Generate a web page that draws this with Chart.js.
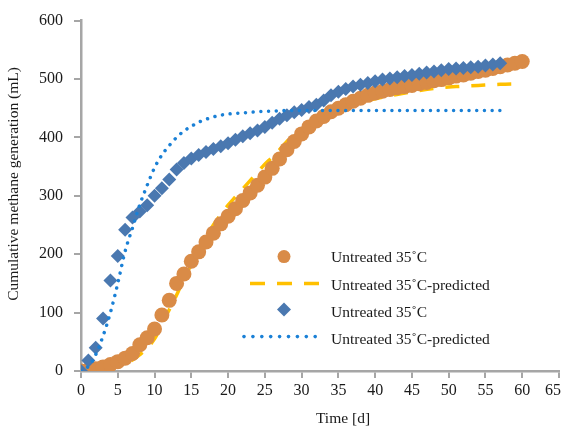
<!DOCTYPE html>
<html>
<head>
<meta charset="utf-8">
<script src="https://cdn.jsdelivr.net/npm/chart.js@4/dist/chart.umd.min.js"></script>
<style>
  html, body { margin: 0; padding: 0; background: #fff; }
  #wrap { width: 562px; height: 426px; }
</style>
</head>
<body>
<div id="wrap"><canvas id="chart" width="562" height="426"></canvas></div>
<script>
// measured series (days / mL)
const orangeDays = [0,1,2,3,4,5,6,7,8,9,10,11,12,13,14,15,16,17,18,19,20,21,22,23,24,25,26,27,28,29,30,31,32,33,34,35,36,37,38,39,40,41,42,43,44,45,46,47,48,49,50,51,52,53,54,55,56,57,58,59,60];
const orangeObs = [0,2,4,7,11,16,22,30,45,57,72,96,121,150,166,188,204,221,236,252,265,278,292,305,318,332,347,363,379,393,406,418,428,436,444,450,456,462,467,472,476,479,482,485,487,489,492,494,497,499,502,505,507,510,513,515,518,521,524,527,530];

const orangePredDays = [0,2,4,6,8,10,11,12,13,14,15,16,17,18,19,20,21,22,23,24,25,26,27,28,29,30,32,34,36,38,40,42,45,48,51,54,57,60];
const orangePred = [0,1,4,12,28,55,80,105,130,158,182,205,228,250,268,284,298,312,326,340,354,366,379,393,404,414,428,441,451,459,466,471,478,484,487,489,491,492];

const blueDays = [0,1,2,3,4,5,6,7,8,9,10,11,12,13,14,15,16,17,18,19,20,21,22,23,24,25,26,27,28,29,30,31,32,33,34,35,36,37,38,39,40,41,42,43,44,45,46,47,48,49,50,51,52,53,54,55,56,57];
const blueObs = [0,18,40,90,155,197,242,263,273,284,300,313,328,345,356,364,370,375,380,385,390,396,402,407,412,418,425,432,438,443,447,452,456,463,472,478,483,487,490,493,496,499,501,503,505,507,509,511,513,515,517,518,519,520,521,523,525,527];

const bluePredDays = [0,1,2,3,4,5,6,7,8,9,10,11,12,13,14,15,16,17,18,19,20,22,24,26,28,30,35,40,45,50,57];
const bluePred = [0,8,28,60,100,150,205,245,285,318,348,370,386,400,411,419,426,431,435,438,440,442,444,445,446,446,446,446,446,446,446];

const seriesLabels = ['Untreated 35˚C', 'Untreated 35˚C-predicted', 'Untreated 35˚C', 'Untreated 35˚C-predicted'];
const xTitle = 'Time [d]';
const yTitle = 'Cumulative methane generation (mL)';

const pts = (xs, ys) => xs.map((x, i) => ({ x: x, y: ys[i] }));

const ORANGE = '#d98b47';
const YELLOW = '#ffc000';
const STEEL = '#4a78b0';
const DOTBLUE = '#1a80d6';
const AXIS = '#a6a6a6';
const TEXT = '#1a1a1a';
const SERIF = '"Liberation Serif", "Times New Roman", serif';

Chart.defaults.font.family = SERIF;
Chart.defaults.font.size = 16;
Chart.defaults.color = TEXT;

// pin the plot box to the reference frame
const frame = {
    id: 'frame',
    afterLayout(chart) {
        const xs = chart.scales.x;
        xs.right = 559;
        xs.width = xs.right - xs.left;
        xs.configure();
        chart.chartArea.right = 559;
        chart.chartArea.width = 559 - chart.chartArea.left;
    }
};

// axis titles and legend drawn inside the plot
const insideLegend = {
    id: 'insideLegend',
    afterDraw(chart) {
        const ctx = chart.ctx;
        const a = chart.chartArea;
        const sx = a.left + 203;
        const tx = a.left + 250;
        const rows = [237, 265, 292, 319];
        ctx.save();

        ctx.fillStyle = TEXT;
        ctx.font = '15.5px ' + SERIF;
        ctx.textAlign = 'center';
        ctx.textBaseline = 'middle';
        ctx.fillText(xTitle, 343, 419);
        ctx.save();
        ctx.translate(14, 184);
        ctx.rotate(-Math.PI / 2);
        ctx.fillText(yTitle, 0, 0);
        ctx.restore();

        // circle
        ctx.fillStyle = ORANGE;
        ctx.beginPath();
        ctx.arc(sx, a.top + 236, 6.5, 0, Math.PI * 2);
        ctx.fill();

        // dashed
        ctx.strokeStyle = YELLOW;
        ctx.lineWidth = 3.5;
        ctx.setLineDash([15, 12]);
        ctx.beginPath();
        ctx.moveTo(sx - 34, a.top + 263);
        ctx.lineTo(sx + 36, a.top + 263);
        ctx.stroke();

        // diamond
        ctx.setLineDash([]);
        ctx.fillStyle = STEEL;
        ctx.beginPath();
        ctx.moveTo(sx, a.top + 289 - 7);
        ctx.lineTo(sx + 7, a.top + 289);
        ctx.lineTo(sx, a.top + 289 + 7);
        ctx.lineTo(sx - 7, a.top + 289);
        ctx.closePath();
        ctx.fill();

        // dotted
        ctx.fillStyle = DOTBLUE;
        for (let i = 0; i < 9; i++) {
            ctx.beginPath();
            ctx.arc(sx - 40 + i * 8.9, a.top + 316, 1.8, 0, Math.PI * 2);
            ctx.fill();
        }

        ctx.fillStyle = TEXT;
        ctx.textAlign = 'left';
        seriesLabels.forEach((t, i) => ctx.fillText(t, tx, a.top + rows[i]));
        ctx.restore();
    }
};

const ctx = document.getElementById('chart').getContext('2d');
new Chart(ctx, {
    type: 'scatter',
    data: {
        datasets: [
            {
                label: seriesLabels[0],
                data: pts(orangeDays, orangeObs),
                pointStyle: 'circle',
                pointRadius: 7.5,
                backgroundColor: ORANGE,
                borderWidth: 0,
                showLine: false,
                order: 3
            },
            {
                label: seriesLabels[1],
                data: pts(orangePredDays, orangePred),
                showLine: true,
                borderColor: YELLOW,
                borderWidth: 3.5,
                borderDash: [14, 12],
                cubicInterpolationMode: 'monotone',
                pointRadius: 0,
                order: 4
            },
            {
                label: seriesLabels[2],
                data: pts(blueDays, blueObs),
                pointStyle: 'rectRot',
                pointRadius: 7,
                backgroundColor: STEEL,
                borderWidth: 0,
                showLine: false,
                order: 2
            },
            {
                label: seriesLabels[3],
                data: pts(bluePredDays, bluePred),
                showLine: true,
                borderColor: DOTBLUE,
                borderWidth: 3.5,
                borderDash: [0.01, 7.7],
                borderCapStyle: 'round',
                cubicInterpolationMode: 'monotone',
                pointRadius: 0,
                order: 1
            }
        ]
    },
    options: {
        responsive: false,
        animation: false,
        layout: { padding: { top: 20, right: 3, left: 0, bottom: 0 } },
        plugins: {
            legend: { display: false },
            tooltip: { enabled: false }
        },
        scales: {
            x: {
                type: 'linear',
                min: 0,
                max: 65,
                ticks: {
                    stepSize: 5,
                    padding: 3,
                    color: TEXT,
                    // last label sits left of its tick so it stays on the canvas
                    callback: v => v === 65 ? v + '   ' : String(v)
                },
                grid: { drawOnChartArea: false, drawTicks: true, tickLength: 7, color: AXIS, lineWidth: 2 },
                border: { color: AXIS, width: 2.5 },
                afterFit(scale) {
                    scale.height = 55;
                }
            },
            y: {
                min: 0,
                max: 600,
                ticks: { stepSize: 100, padding: 11, color: TEXT },
                grid: { drawOnChartArea: false, drawTicks: true, tickLength: 7, color: AXIS, lineWidth: 2 },
                border: { color: AXIS, width: 2.5 },
                afterFit(scale) {
                    scale.width = 81;
                }
            }
        }
    },
    plugins: [frame, insideLegend]
});
</script>
</body>
</html>
